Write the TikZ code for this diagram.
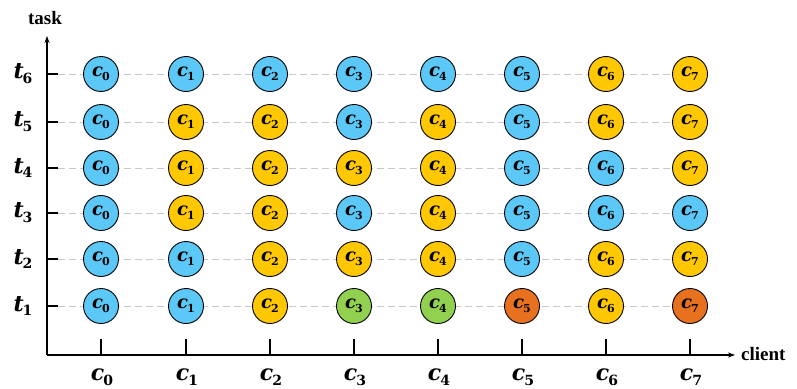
\documentclass[tikz,border=0pt]{standalone}
\usepackage{fontspec}
\setmainfont{Liberation Serif}
\newfontfamily\symfont{DejaVu Serif}
\usetikzlibrary{arrows.meta}
\definecolor{cb}{HTML}{5BC8F7}
\definecolor{cy}{HTML}{FFC800}
\definecolor{cg}{HTML}{92D050}
\definecolor{co}{HTML}{E8711F}
\definecolor{gl}{HTML}{C8C8C8}
% #1 letter, #2 index, #3 size, #4 subscript size
\newcommand{\symlab}[4]{{\symfont\bfseries\fontsize{#3}{#3}\selectfont\itshape #1\kern-0.05em\raisebox{-0.22em}{\upshape\fontsize{#4}{#4}\selectfont #2}}}
\tikzset{
  cl/.style={circle,draw=black,line width=0.9pt,minimum size=35pt,inner sep=0pt},
  grid/.style={draw=gl,dash pattern=on 7pt off 4pt,line width=1pt},
  axis/.style={line width=1.1pt,-{Stealth[length=7pt,width=5pt]}},
  tk/.style={line width=1.1pt},
  albl/.style={font=\bfseries\fontsize{19}{19}\selectfont}
}
\begin{document}
\begin{tikzpicture}[x=1pt,y=1pt]
\useasboundingbox (0,0) rectangle (797,-388);
\coordinate (O) at (47,-355);
\coordinate (Ytop) at (47,-36);
\coordinate (Xend) at (735,-355);
\draw[axis] (O) -- (Ytop);
\draw[axis] (O) -- (Xend);
\node[albl] (task) at (45,-18) {task};
\node[albl,anchor=west,inner sep=0pt] (client) at (741,-354) {client};
\def\xs{{101,186,270,354,438,522,606,690}}
\def\ys{{-306,-259,-213,-168,-122,-74}}
\foreach \j in {0,...,7}{
  \pgfmathsetmacro{\xx}{\xs[\j]}
  \draw[tk] (\xx,-355) -- (\xx,-339);
  \node (cl\j) at (\xx+1,-377) {\symlab{c}{\j}{22}{14}};
}
\foreach \i in {1,...,6}{
  \pgfmathsetmacro{\yy}{\ys[\i-1]}
  \draw[tk] (47,\yy) -- (58,\yy);
  \node (t\i) at (23,\yy) {\symlab{t}{\i}{22}{14}};
  \coordinate (gs\i) at (58,\yy);
  \coordinate (ge\i) at (690,\yy);
  \draw[grid] (gs\i) -- (ge\i);
}
\foreach \row/\cols in {
 1/{cb,cb,cy,cg,cg,co,cy,co},
 2/{cb,cb,cy,cy,cy,cb,cy,cy},
 3/{cb,cy,cy,cb,cy,cb,cb,cb},
 4/{cb,cy,cy,cy,cy,cb,cb,cy},
 5/{cb,cy,cy,cb,cy,cb,cy,cy},
 6/{cb,cb,cb,cb,cb,cb,cy,cy}}{
  \pgfmathsetmacro{\yy}{\ys[\row-1]}
  \foreach \c [count=\k from 0] in \cols {
    \pgfmathsetmacro{\xx}{\xs[\k]}
    \node[cl,fill=\c] (n\row-\k) at (\xx,\yy) {\symlab{c}{\k}{18}{11}};
  }
}
\end{tikzpicture}
\end{document}
